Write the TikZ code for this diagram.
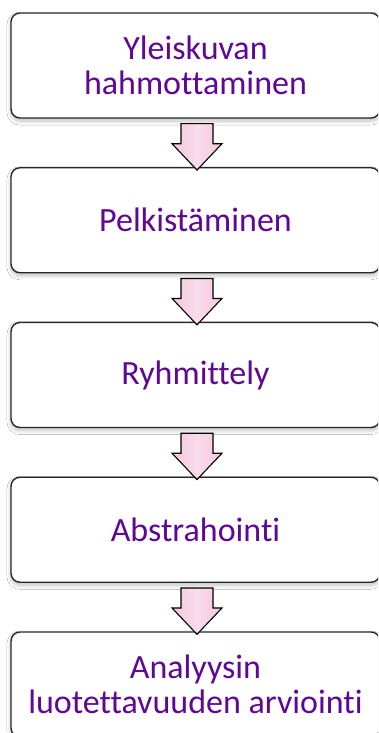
\documentclass[tikz,border=0pt]{standalone}
\usepackage{fontspec}
\setmainfont[Ligatures=NoCommon]{Carlito}
\usetikzlibrary{shadows.blur,calc}

\definecolor{steptext}{RGB}{96,8,150}
\definecolor{stepline}{RGB}{40,40,40}
\definecolor{arrowpink}{RGB}{244,198,222}
\definecolor{arrowlight}{RGB}{249,220,234}

\tikzset{
  stepbox/.style={
    draw=stepline, line width=1.4pt, fill=white,
    rounded corners=9pt,
    minimum width=369pt, minimum height=105pt,
    align=center, text=steptext,
    font=\fontsize{34}{35}\selectfont,
    blur shadow={shadow xshift=0pt, shadow yshift=-3pt,
                 shadow blur steps=8, shadow blur radius=4pt,
                 shadow opacity=25}
  },
  stepboxup/.style={stepbox, text depth=3pt},
  flowarrow/.style={
    draw=black, line width=1.1pt, line join=miter,
    left color=arrowpink, right color=arrowpink, middle color=arrowlight
  }
}

% block arrow hanging below node #1 and pointing at node #2
\newcommand{\blockarrow}[2]{%
  \path[flowarrow]
    ([xshift=-14.5pt,yshift=-5pt]#1.south) --
    ([xshift=17.5pt,yshift=-5pt]#1.south) --
    ([xshift=17.5pt,yshift=-25pt]#1.south) --
    ([xshift=26.5pt,yshift=-25pt]#1.south) --
    ([xshift=1.5pt,yshift=-3pt]#2.north) --
    ([xshift=-23.5pt,yshift=-25pt]#1.south) --
    ([xshift=-14.5pt,yshift=-25pt]#1.south) -- cycle;}

\begin{document}
\begin{tikzpicture}[x=1pt,y=-1pt]
  \clip (0,0) rectangle (378,733);
  \fill[white] (0,0) rectangle (378,733);

  \node[stepbox] (s1) at (195.5,65.5)  {Yleiskuvan\\hahmottaminen};
  \node[stepbox] (s2) at (195.5,220.25) {Pelkistäminen};
  \node[stepbox] (s3) at (195.5,375)   {Ryhmittely};
  \node[stepbox] (s4) at (195.5,529.75) {Abstrahointi};
  \node[stepbox] (s5) at (195.5,684.5) {Analyysin\\luotettavuuden arviointi};

  \blockarrow{s1}{s2}
  \blockarrow{s2}{s3}
  \blockarrow{s3}{s4}
  \blockarrow{s4}{s5}
\end{tikzpicture}
\end{document}
